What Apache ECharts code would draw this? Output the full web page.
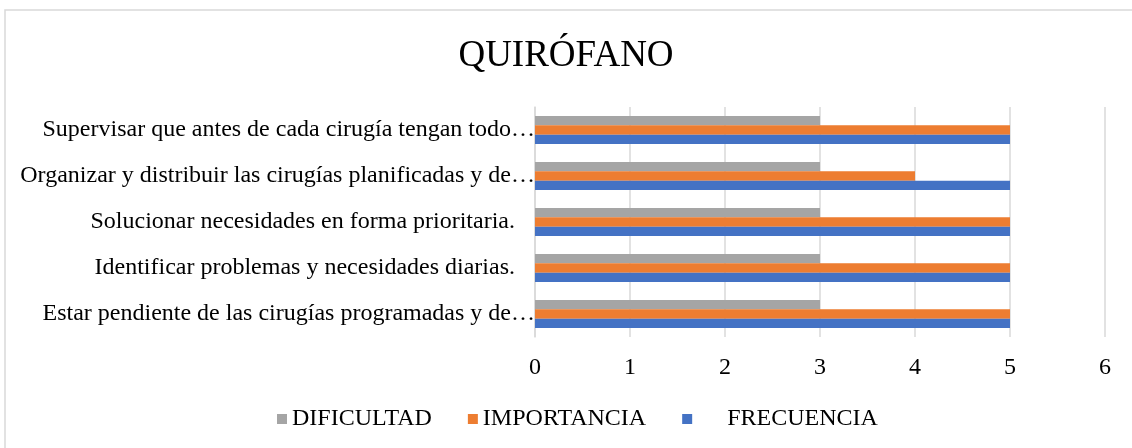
<!DOCTYPE html>
<html>
<head>
<meta charset="utf-8">
<script src="https://cdn.jsdelivr.net/npm/echarts@6/dist/echarts.min.js"></script>
<style>
  html, body { margin: 0; padding: 0; background: #fff; }
  #charts { width: 1132px; height: 448px; }
</style>
</head>
<body>
<div id="charts"></div>
<script>
// categories (bottom to top, as the y axis reads)
var categorias = [
    'Estar pendiente de las cirugías programadas y de…',
    'Identificar problemas y necesidades diarias.',
    'Solucionar necesidades en forma prioritaria.',
    'Organizar y distribuir las cirugías planificadas y de…',
    'Supervisar que antes de cada cirugía tengan todo…'
];
var dificultad = [3, 3, 3, 3, 3];
var importancia = [5, 5, 5, 4, 5];
var frecuencia = [5, 5, 5, 5, 5];
var nombres = ['DIFICULTAD', 'IMPORTANCIA', '     FRECUENCIA'];
var colores = ['#a5a5a5', '#ed7d31', '#4472c4'];

var fuente = '"Liberation Serif", "Times New Roman", serif';
var myChart = echarts.init(document.getElementById('charts'));

var option = {
    animation: false,
    textStyle: { fontFamily: fuente },
    graphic: [{
        type: 'rect',
        shape: { x: 5, y: 10, width: 1200, height: 500 },
        style: { fill: 'none', stroke: '#d9d9d9', lineWidth: 1.5 },
        silent: true
    }],
    title: {
        text: 'QUIRÓFANO',
        left: 'center',
        top: 33,
        textStyle: { fontFamily: fuente, fontWeight: 'normal', fontSize: 37, color: '#000' }
    },
    legend: {
        bottom: 12,
        left: 272,
        itemWidth: 10,
        itemHeight: 10,
        itemGap: 36,
        icon: 'rect',
        textStyle: { fontFamily: fuente, fontSize: 24, color: '#000' },
        data: nombres
    },
    grid: { left: 535, right: 27, top: 107, bottom: 111, containLabel: false },
    xAxis: {
        type: 'value',
        min: 0,
        max: 6,
        interval: 1,
        axisLine: { show: false },
        axisTick: { show: false },
        axisLabel: { fontFamily: fuente, fontSize: 24, color: '#000', margin: 19 },
        splitLine: { lineStyle: { color: '#d9d9d9', width: 1.5 } }
    },
    yAxis: {
        type: 'category',
        data: categorias,
        axisLine: { lineStyle: { color: '#d9d9d9', width: 1.5 } },
        axisTick: { show: false },
        axisLabel: {
            fontFamily: fuente, fontSize: 24, color: '#000', margin: 0,
            formatter: function(v) {
                // las etiquetas cortadas llegan hasta el eje, las otras no
                if (v.charAt(v.length - 1) == '…') return '{t|' + v + '}';
                return '{n|' + v + '}';
            },
            rich: {
                t: { fontFamily: fuente, fontSize: 24, color: '#000' },
                n: { fontFamily: fuente, fontSize: 24, color: '#000', padding: [0, 20, 0, 0] }
            }
        }
    },
    series: [
        { name: nombres[0], type: 'bar', data: dificultad, itemStyle: { color: colores[0] }, barGap: '0%', barCategoryGap: '39%' },
        { name: nombres[1], type: 'bar', data: importancia, itemStyle: { color: colores[1] } },
        { name: nombres[2], type: 'bar', data: frecuencia, itemStyle: { color: colores[2] } }
    ]
};
myChart.setOption(option, true);
</script>
</body>
</html>
